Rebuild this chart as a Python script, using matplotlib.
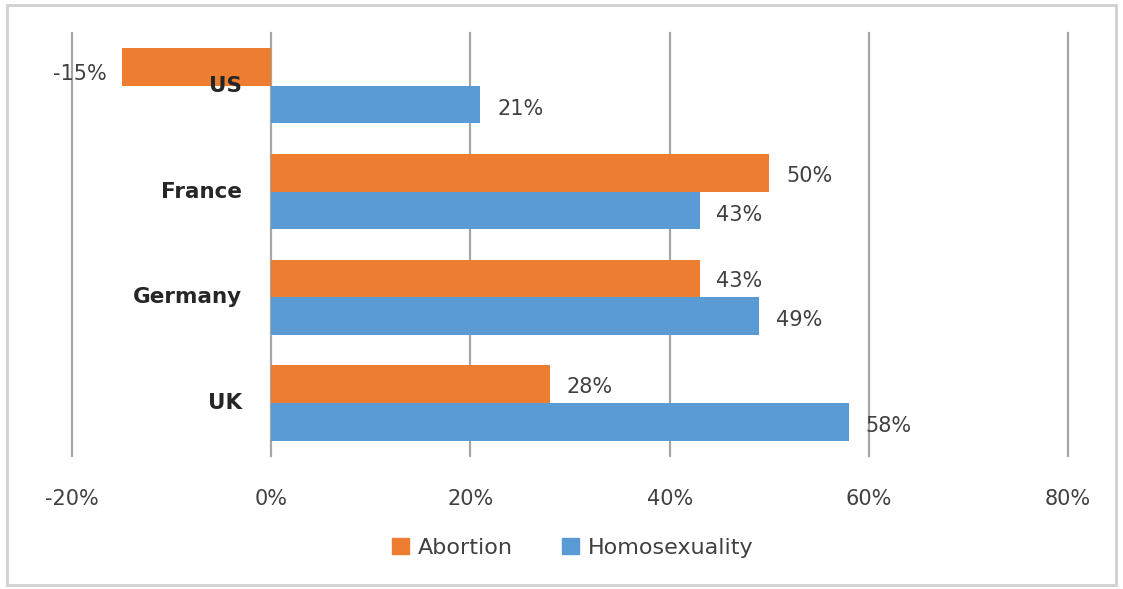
import matplotlib.pyplot as plt
import numpy as np
from matplotlib.patches import Rectangle, Patch

countries = ['US', 'France', 'Germany', 'UK']
abortion = [-15, 50, 43, 28]
homosexuality = [21, 43, 49, 58]
x_ticks = [-20, 0, 20, 40, 60, 80]

orange = '#ED7D31'
blue = '#5B9BD5'
txt = '#404040'

plt.rcParams['font.family'] = ['DejaVu Sans']

fig = plt.figure(figsize=(11.23, 5.89), dpi=100)
ax = fig.add_axes([0.0641, 0.226, 0.887, 0.718])

y = np.arange(len(countries))
h = 0.355
ax.barh(y - h / 2, abortion, height=h, color=orange, zorder=3)
ax.barh(y + h / 2, homosexuality, height=h, color=blue, zorder=3)

# value labels
for yi, v in zip(y, abortion):
    if v < 0:
        ax.annotate(f'{v}%', (v, yi - h / 2), xytext=(-11, -5), textcoords='offset points',
                    ha='right', va='center', fontsize=15, color=txt)
    else:
        ax.annotate(f'{v}%', (v, yi - h / 2), xytext=(12, -2), textcoords='offset points',
                    ha='left', va='center', fontsize=15, color=txt)
for yi, v in zip(y, homosexuality):
    ax.annotate(f'{v}%', (v, yi + h / 2), xytext=(12, -3), textcoords='offset points',
                ha='left', va='center', fontsize=15, color=txt)

# category labels next to zero line
for yi, c in zip(y, countries):
    ax.annotate(c, (0, yi), xytext=(-21, 0), textcoords='offset points',
                ha='right', va='center', fontsize=15.5, fontweight='bold', color='#262626')

ax.set_xlim(-20, 80)
ax.set_ylim(3.5, -0.5)
ax.set_xticks(x_ticks)
ax.set_xticklabels([f'{t}%' for t in x_ticks], fontsize=15, color=txt)
ax.set_yticks([])
ax.tick_params(axis='x', length=0, pad=24)
for t in x_ticks:
    ax.axvline(t, color='#A6A6A6', lw=1.6, zorder=1, clip_on=False)
for s in ax.spines.values():
    s.set_visible(False)

handles = [Patch(color=orange, label='Abortion'), Patch(color=blue, label='Homosexuality')]
fig.legend(handles=handles, loc='center', bbox_to_anchor=(0.51, 0.07), ncol=2, frameon=False,
           fontsize=16, handlelength=0.75, handleheight=0.75, handletextpad=0.4,
           columnspacing=2.2, labelcolor=txt)

fig.patches.append(Rectangle((0.006, 0.006), 0.988, 0.985, transform=fig.transFigure,
                             fill=False, edgecolor='#D0D0D0', lw=2))

fig.savefig('out.png', dpi=100)
